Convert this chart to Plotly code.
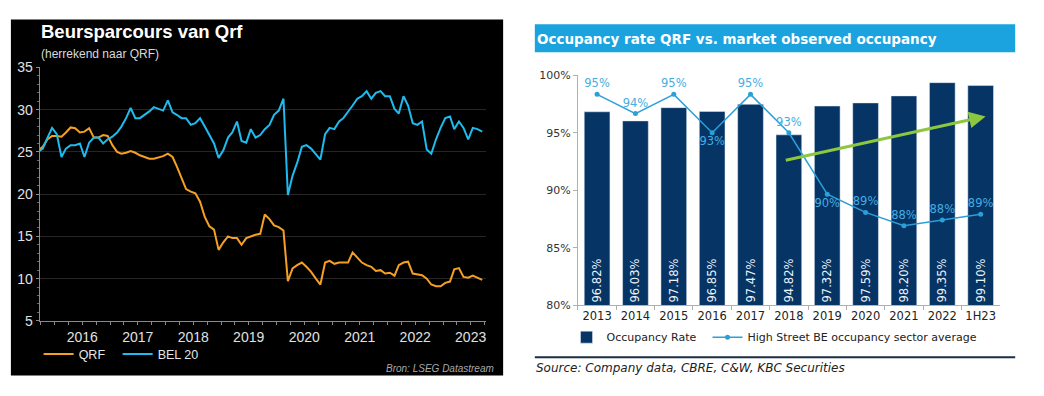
import pandas as pd
import plotly.graph_objects as go

W, H = 1044, 396

# ---------------- Left chart data (mid-month samples, Sep 2015 - Sep 2023) ----------------
qrf_start = "2015-09-01"
qrf_values = [
    25.2, 25.6, 26.5, 26.9, 26.9, 26.8, 27.3, 27.9, 27.8, 27.3, 27.4, 27.8, 26.7,
    26.7, 27.0, 26.9, 25.8, 25.0, 24.8, 24.9, 25.1, 24.9, 24.6, 24.4, 24.2,
    24.2, 24.4, 24.5, 24.8, 24.4, 23.3, 21.8, 20.6, 20.3, 20.1, 19.1, 17.3,
    16.2, 15.8, 13.4, 14.3, 15.0, 14.8, 14.8, 14.0, 14.8, 15.0, 15.2, 15.3,
    17.6, 17.05, 16.3, 16.1, 15.7, 9.7, 11.2, 11.6, 11.9, 11.4, 10.8, 10.0,
    9.3, 11.9, 12.1, 11.75, 11.9, 11.9, 11.9, 13.1, 12.5, 11.9, 11.6, 11.4,
    10.9, 11.0, 10.6, 10.7, 10.35, 11.6, 11.9, 12.0, 10.6, 10.5, 10.4, 10.0,
    9.3, 9.1, 9.1, 9.5, 9.65, 11.1, 11.25, 10.2, 10.1, 10.35, 10.1, 9.85,
]
bel20_values = [
    25.0, 25.4, 26.7, 27.85, 27.1, 24.4, 25.4, 25.8, 25.8, 26.0, 24.4, 26.1, 26.7,
    26.7, 26.0, 26.5, 26.8, 27.3, 28.0, 29.0, 30.2, 29.0, 29.0, 29.4, 29.8,
    30.3, 30.1, 29.9, 31.1, 29.7, 29.4, 29.0, 29.0, 28.2, 28.4, 29.0, 28.0,
    27.1, 26.0, 24.3, 25.2, 26.7, 27.3, 28.6, 26.3, 26.1, 27.7, 26.7, 27.0,
    27.7, 28.2, 29.4, 29.9, 31.3, 19.9, 22.2, 23.7, 25.6, 25.8, 25.4, 24.8,
    24.1, 27.1, 27.85, 27.7, 28.6, 29.0, 29.7, 30.5, 31.3, 31.6, 32.2, 31.3,
    32.0, 32.2, 31.6, 31.6, 30.1, 29.55, 31.6, 30.5, 28.4, 28.2, 28.6, 25.3,
    24.8, 26.5, 27.85, 29.0, 29.2, 27.7, 28.6, 27.85, 26.5, 27.85, 27.7, 27.4,
]
left_year_labels = ["2016", "2017", "2018", "2019", "2020", "2021", "2022", "2023"]
left_y_ticks = [5, 10, 15, 20, 25, 30, 35]

dates = pd.date_range(qrf_start, periods=len(qrf_values), freq="MS") + pd.Timedelta(days=14)

# ---------------- Right chart data ----------------
occ_periods = ["2013", "2014", "2015", "2016", "2017", "2018", "2019", "2020", "2021", "2022", "1H23"]
occ_rate = [96.82, 96.03, 97.18, 96.85, 97.47, 94.82, 97.32, 97.59, 98.20, 99.35, 99.10]
sector_avg = [95.0, 94.0, 95.0, 93.0, 95.0, 93.0, 89.8, 88.85, 88.15, 88.45, 88.75]
sector_label_pos = ["top center", "top center", "top center", "bottom center", "top center",
                    "top center", "bottom center", "top center", "top center", "top center", "top center"]
occ_axis_min = 80

ORANGE = "#F5A023"
BLUE = "#1EBBEE"
NAVY = "#053465"
LBLUE = "#2B9FD7"

def px(x):
    return x / W

def py(y):
    return 1 - y / H

fig = go.Figure()

fig.add_trace(go.Scatter(x=dates, y=qrf_values, name="QRF", mode="lines", legendwidth=34,
                         line=dict(color=ORANGE, width=2), xaxis="x", yaxis="y", legend="legend"))
fig.add_trace(go.Scatter(x=dates, y=bel20_values, name="BEL 20", mode="lines",
                         line=dict(color=BLUE, width=2), xaxis="x", yaxis="y", legend="legend"))

fig.add_trace(go.Bar(x=occ_periods, y=[v - occ_axis_min for v in occ_rate], base=occ_axis_min,
                     name="Occupancy Rate", marker_color=NAVY, legendwidth=96,
                     text=[f"{v:.2f}%" for v in occ_rate], textposition="inside", textangle=-90,
                     insidetextanchor="start", hoverinfo="skip",
                     textfont=dict(family="DejaVu Sans", size=11.5, color="#eef3f8"),
                     xaxis="x2", yaxis="y2", legend="legend2"))
fig.add_trace(go.Scatter(x=occ_periods, y=sector_avg, name="High Street BE occupancy sector average",
                         mode="lines+markers+text", line=dict(color=LBLUE, width=1.5),
                         marker=dict(size=5, color=LBLUE),
                         text=[f"{v:.0f}%" for v in sector_avg], textposition=sector_label_pos,
                         textfont=dict(family="DejaVu Sans", size=11.5, color="#46ADE0"),
                         cliponaxis=False,
                         xaxis="x2", yaxis="y3", legend="legend2"))

# quarterly ticks on left x axis, year labels at mid-year
tickvals, ticktext = [], []
for yr in range(2015, 2024):
    for q in (1, 4, 7, 10):
        d = pd.Timestamp(year=yr, month=q, day=1)
        if pd.Timestamp("2015-09-24") <= d <= pd.Timestamp("2023-10-12"):
            tickvals.append(d)
            lab = str(yr) if (q == 7 and str(yr) in left_year_labels) else ""
            ticktext.append(lab)

fig.update_layout(
    width=W, height=H, margin=dict(l=0, r=0, t=0, b=0),
    paper_bgcolor="white", plot_bgcolor="rgba(0,0,0,0)",
    showlegend=True, bargap=0.33,
    xaxis=dict(domain=[px(40), px(491)], anchor="y", type="date",
               range=["2015-09-24", "2023-10-12"],
               tickvals=tickvals, ticktext=ticktext, ticks="outside", ticklen=3,
               tickcolor="#8a8a8a", showline=True, linecolor="#8a8a8a", showgrid=False,
               zeroline=False,
               tickfont=dict(family="Liberation Sans", size=14, color="#e0e0e0")),
    yaxis=dict(domain=[py(326), py(62)], anchor="x", range=[5, 35], tickvals=left_y_ticks,
               ticks="outside", ticklen=3, tickcolor="#8a8a8a", showline=True, linecolor="#8a8a8a",
               showgrid=True, gridcolor="#262626", gridwidth=1, zeroline=False,
               minor=dict(dtick=1, ticks="outside", ticklen=2, tickcolor="#6a6a6a", showgrid=False),
               tickfont=dict(family="Liberation Sans", size=14, color="#e0e0e0")),
    xaxis2=dict(domain=[px(583.5), px(1009.5)], anchor="y2", type="category",
                range=[-0.5, 10.5], ticks="outside", tickson="boundaries", ticklen=4,
                tickcolor="#b0b0b0", showline=True, linecolor="#b0b0b0", showgrid=False,
                tickfont=dict(family="DejaVu Sans", size=11.5, color="#222222")),
    yaxis2=dict(domain=[py(310), py(70)], anchor="x2", range=[80, 100], dtick=5,
                ticksuffix="%", ticks="outside", ticklen=4, tickcolor="#b0b0b0",
                showline=True, linecolor="#b0b0b0", showgrid=False, zeroline=False,
                tickfont=dict(family="DejaVu Sans", size=11, color="#333333")),
    yaxis3=dict(domain=[py(310), py(70)], anchor="x2", overlaying="y2", range=[84, 96],
                visible=False),
    legend=dict(orientation="h", x=px(39), y=py(361), xanchor="left", yanchor="middle",
                bgcolor="rgba(0,0,0,0)",
                font=dict(family="Liberation Sans", size=12.5, color="#e6e6e6")),
    legend2=dict(orientation="h", x=px(572), y=py(343), xanchor="left", yanchor="middle",
                 bgcolor="rgba(0,0,0,0)",
                 font=dict(family="DejaVu Sans", size=11, color="#222222")),
    shapes=[
        dict(type="rect", xref="paper", yref="paper", x0=px(11), x1=px(508), y0=py(383), y1=py(12),
             fillcolor="black", line=dict(width=0), layer="below"),
        dict(type="rect", xref="paper", yref="paper", x0=px(540), x1=px(1025), y0=py(46), y1=py(17),
             fillcolor="#1AA3DF", line=dict(width=0), layer="below"),
        dict(type="line", xref="paper", yref="paper", x0=px(540), x1=px(1025), y0=py(364), y1=py(364),
             line=dict(color="#1b2f45", width=2)),
    ],
    annotations=[
        dict(text="<b>Beursparcours van Qrf</b>", xref="paper", yref="paper", x=px(39), y=py(25),
             xanchor="left", yanchor="middle", showarrow=False,
             font=dict(family="Liberation Sans", size=18.5, color="white")),
        dict(text="(herrekend naar QRF)", xref="paper", yref="paper", x=px(39), y=py(48),
             xanchor="left", yanchor="middle", showarrow=False,
             font=dict(family="Liberation Sans", size=12, color="#d9d9d9")),
        dict(text="<i>Bron: LSEG Datastream</i>", xref="paper", yref="paper", x=px(501), y=py(376),
             xanchor="right", yanchor="middle", showarrow=False,
             font=dict(family="Liberation Sans", size=10, color="#a8a8a8")),
        dict(text="<b>Occupancy rate QRF vs. market observed occupancy</b>", xref="paper", yref="paper",
             x=px(540), y=py(32), xanchor="left", yanchor="middle", showarrow=False,
             font=dict(family="DejaVu Sans", size=13.5, color="white")),
        dict(text="<i>Source: Company data, CBRE, C&W, KBC Securities</i>", xref="paper", yref="paper",
             x=px(539), y=py(375), xanchor="left", yanchor="middle", showarrow=False,
             font=dict(family="DejaVu Sans", size=12, color="#222222")),
        dict(text="", x=10.13, y=96.42, xref="x2", yref="y2", ax=4.88, ay=92.58, axref="x2", ayref="y2",
             showarrow=True, arrowhead=2, arrowsize=1.1, arrowwidth=3, arrowcolor="#8DC63F"),
    ],
)

fig.write_html("out.html", config={"displayModeBar": False},
               post_script=["document.body.style.margin='0';"])
